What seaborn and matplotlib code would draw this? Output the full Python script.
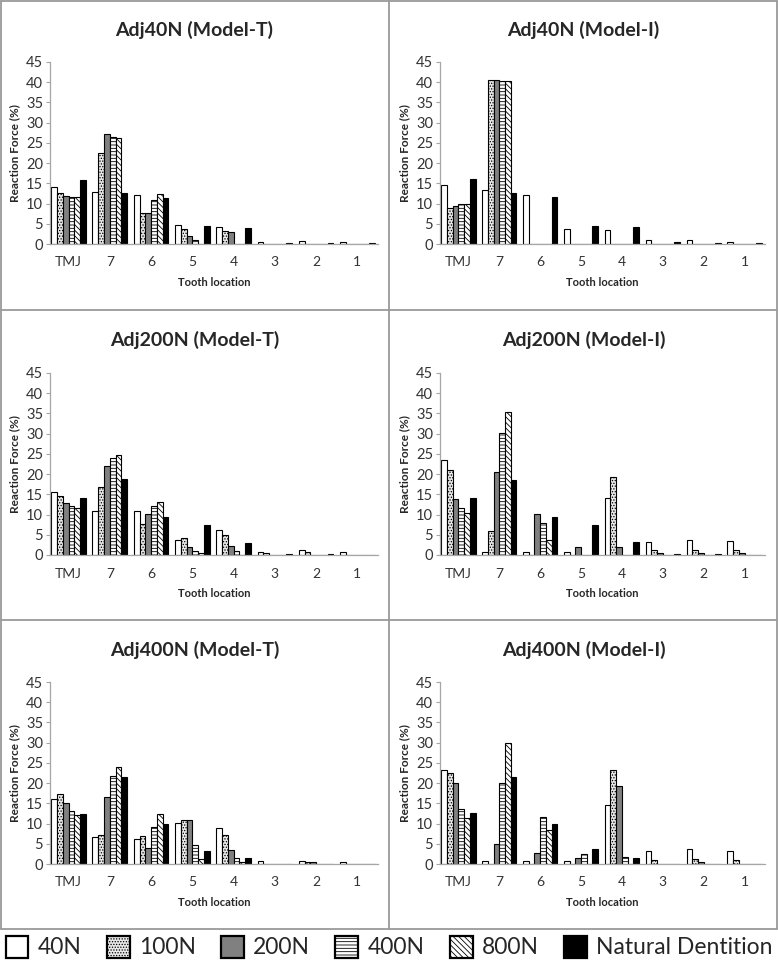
"""Reaction force distribution per tooth location — 6 panels (seaborn barplot)"""

import matplotlib.pyplot as plt
import matplotlib.patches as mpatches
from matplotlib.lines import Line2D
import pandas as pd
import seaborn as sns

sns.set_theme(style="white")
plt.rcParams["font.family"] = ["Lato", "DejaVu Sans"]
plt.rcParams["hatch.linewidth"] = 0.6

# カテゴリ
locations = ["TMJ", "7", "6", "5", "4", "3", "2", "1"]
loads = ["40N", "100N", "200N", "400N", "800N", "Natural Dentition"]

# 各パネルの値（行 = 荷重、列 = 部位）
adj40_T = [
    [14.2, 12.8, 12.0, 4.8, 4.3, 0.6, 0.8, 0.5],
    [12.5, 22.6, 7.6, 3.8, 3.1, 0.1, 0.1, 0.1],
    [11.9, 27.1, 7.7, 2.1, 3.0, 0.1, 0.1, 0.1],
    [11.7, 26.4, 11.0, 1.0, 0.1, 0.1, 0.1, 0.1],
    [11.7, 26.1, 12.3, 0.1, 0.1, 0.1, 0.1, 0.1],
    [15.8, 12.5, 11.3, 4.4, 4.0, 0.3, 0.3, 0.2],
]
adj40_I = [
    [14.7, 13.3, 12.0, 3.7, 3.4, 0.9, 1.0, 0.5],
    [9.0, 40.6, 0.1, 0.1, 0.1, 0.1, 0.1, 0.1],
    [9.4, 40.6, 0.1, 0.1, 0.1, 0.1, 0.1, 0.1],
    [9.8, 40.4, 0.1, 0.1, 0.1, 0.1, 0.1, 0.1],
    [10.0, 40.2, 0.1, 0.1, 0.1, 0.1, 0.1, 0.1],
    [16.0, 12.5, 11.5, 4.4, 4.2, 0.5, 0.3, 0.3],
]
adj200_T = [
    [15.7, 10.9, 10.9, 3.6, 6.1, 0.8, 1.3, 0.8],
    [14.5, 16.9, 7.7, 4.2, 4.9, 0.5, 0.7, 0.1],
    [12.8, 21.9, 10.2, 2.0, 2.2, 0.1, 0.1, 0.1],
    [12.1, 23.9, 12.1, 0.9, 0.9, 0.1, 0.1, 0.1],
    [11.6, 24.7, 13.0, 0.5, 0.1, 0.1, 0.1, 0.1],
    [14.1, 18.7, 9.5, 7.5, 3.0, 0.2, 0.15, 0.05],
]
adj200_I = [
    [23.6, 0.7, 0.7, 0.7, 14.0, 3.1, 3.8, 3.5],
    [21.0, 6.0, 0.05, 0.05, 19.2, 1.2, 1.3, 1.2],
    [13.8, 20.6, 10.1, 1.9, 2.0, 0.5, 0.6, 0.5],
    [11.5, 30.2, 8.0, 0.05, 0.05, 0.05, 0.05, 0.05],
    [10.5, 35.3, 3.7, 0.05, 0.05, 0.05, 0.05, 0.05],
    [14.0, 18.6, 9.5, 7.5, 3.1, 0.15, 0.15, 0.0],
]
adj400_T = [
    [16.0, 6.6, 6.2, 10.2, 8.8, 0.7, 0.7, 0.5],
    [17.2, 7.2, 6.9, 11.0, 7.2, 0.1, 0.6, 0.1],
    [15.1, 16.5, 4.0, 10.8, 3.5, 0.1, 0.6, 0.1],
    [13.1, 21.8, 9.2, 4.7, 1.6, 0.1, 0.1, 0.1],
    [12.2, 24.1, 12.4, 1.2, 0.6, 0.1, 0.1, 0.1],
    [12.4, 21.6, 10.0, 3.3, 1.5, 0.05, 0.05, 0.05],
]
adj400_I = [
    [23.3, 0.7, 0.7, 0.7, 14.7, 3.1, 3.6, 3.3],
    [22.4, 0.05, 0.05, 0.05, 23.2, 1.0, 1.2, 0.9],
    [20.0, 5.0, 2.7, 1.5, 19.4, 0.05, 0.5, 0.05],
    [13.5, 20.0, 11.6, 2.5, 1.8, 0.05, 0.05, 0.05],
    [11.3, 29.9, 8.3, 0.05, 0.05, 0.05, 0.05, 0.05],
    [12.5, 21.6, 10.0, 3.8, 1.5, 0.0, 0.0, 0.0],
]

panels = [
    ("Adj40N (Model-T)", adj40_T), ("Adj40N (Model-I)", adj40_I),
    ("Adj200N (Model-T)", adj200_T), ("Adj200N (Model-I)", adj200_I),
    ("Adj400N (Model-T)", adj400_T), ("Adj400N (Model-I)", adj400_I),
]

# 荷重ごとの塗り・ハッチ
styles = [
    dict(facecolor="white", hatch=""),
    dict(facecolor="#e8e8e8", hatch="......"),
    dict(facecolor="#808080", hatch=""),
    dict(facecolor="white", hatch="-----"),
    dict(facecolor="white", hatch="\\\\\\\\\\\\"),
    dict(facecolor="black", hatch=""),
]


def to_frame(values):
    rows = []
    for load, vals in zip(loads, values):
        for loc, v in zip(locations, vals):
            rows.append({"loc": loc, "load": load, "value": v})
    return pd.DataFrame(rows)


W, H = 778, 966
fig = plt.figure(figsize=(W / 100, H / 100), dpi=100)

col_x = [(50, 378), (440, 765)]
row_y = [(62, 244), (373, 555), (682, 864)]
title_y = [30, 340, 650]

for i, (title, values) in enumerate(panels):
    r, c = divmod(i, 2)
    x0, x1 = col_x[c]
    yt, yb = row_y[r]
    ax = fig.add_axes([x0 / W, 1 - yb / H, (x1 - x0) / W, (yb - yt) / H])
    sns.barplot(data=to_frame(values), x="loc", y="value", hue="load",
                order=locations, hue_order=loads, width=0.84, gap=0,
                errorbar=None, legend=False, ax=ax)
    for cont, st in zip(ax.containers, styles):
        for bar in cont:
            bar.set_facecolor(st["facecolor"])
            bar.set_hatch(st["hatch"])
            bar.set_edgecolor("black")
            bar.set_linewidth(0.8)
    ax.set_ylim(0, 45)
    ax.set_yticks(range(0, 46, 5))
    ax.set_xlim(-0.45, 7.5)
    for s in ["top", "right"]:
        ax.spines[s].set_visible(False)
    for s in ["left", "bottom"]:
        ax.spines[s].set_color("#a6a6a6")
        ax.spines[s].set_linewidth(0.9)
    ax.tick_params(axis="x", length=0, pad=9, labelsize=10, labelcolor="#333333")
    ax.tick_params(axis="y", left=True, length=3, width=0.8, color="#a6a6a6",
                   pad=2, labelsize=10.5, labelcolor="#333333")
    ax.set_ylabel("Reaction Force (%)", fontsize=8.5, fontweight="bold", labelpad=4)
    ax.set_xlabel("Tooth location", fontsize=8, fontweight="bold", labelpad=6)
    fig.text((c * 389 + 389 / 2) / W, 1 - title_y[r] / H, title,
             ha="center", va="center", fontsize=14, fontweight="bold")

# パネル枠
frame = dict(color="#9a9a9a", linewidth=1.3, transform=fig.transFigure)
for y in [1, 310, 620, 929]:
    fig.add_artist(Line2D([1 / W, 777 / W], [1 - y / H, 1 - y / H], **frame))
for x in [1, 389, 777]:
    fig.add_artist(Line2D([x / W, x / W], [1 - 1 / H, 1 - 929 / H], **frame))

# 凡例
handles = [mpatches.Patch(facecolor=st["facecolor"], hatch=st["hatch"],
                          edgecolor="black", linewidth=1.6) for st in styles]
fig.legend(handles, loads, loc="center", bbox_to_anchor=(0.5, 1 - 947 / H),
           ncol=6, frameon=False, fontsize=16.5, handlelength=1.0,
           handleheight=1.1, handletextpad=0.4, columnspacing=1.1,
           borderaxespad=0, borderpad=0)

fig.savefig("out.png", dpi=100)
